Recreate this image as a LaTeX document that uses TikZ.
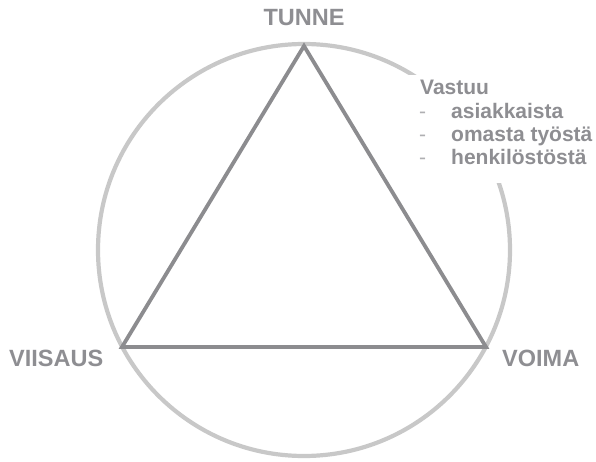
\documentclass[tikz,border=0pt]{standalone}
\usepackage{fontspec}
\setmainfont{Liberation Sans}
\definecolor{ringgray}{RGB}{200,200,200}
\definecolor{trigray}{RGB}{140,140,143}
\definecolor{txtgray}{RGB}{142,142,146}
\definecolor{dashgray}{RGB}{175,175,178}
\begin{document}
\begin{tikzpicture}[x=1pt,y=-1pt,
  lbl/.style={inner sep=0pt,anchor=base,text=txtgray,font=\bfseries\fontsize{23.5}{28}\selectfont},
  itm/.style={inner sep=0pt,anchor=base west,text=txtgray,font=\bfseries\fontsize{21}{25}\selectfont},
  dsh/.style={inner sep=0pt,anchor=base west,text=dashgray,font=\fontsize{21}{25}\selectfont}]
\useasboundingbox (0,0) rectangle (596,462);
\coordinate (c) at (304,250);
\draw[ringgray,line width=4.2pt] (c) circle[radius=206];
\fill[white] (405,75) rectangle (580,183.5);
\coordinate (top) at (304,46);
\coordinate (bl) at (122,347);
\coordinate (br) at (486,347);
\draw[trigray,line width=3.8pt,line join=miter] (top) -- (bl) -- (br) -- cycle;
\node[lbl] (tunne) at (304,26) {TUNNE};
\node[lbl,anchor=base west] (viisaus) at (9,366) {VIISAUS};
\node[lbl,anchor=base west] (voima) at (502,366) {VOIMA};
\node[itm] (vastuu) at (420,95) {Vastuu};
\node[dsh] (d1) at (419,118.5) {-};
\node[itm] (i1) at (451,118.5) {asiakkaista};
\node[dsh] (d2) at (419,141.8) {-};
\node[itm] (i2) at (451,141.8) {omasta työstä};
\node[dsh] (d3) at (419,165) {-};
\node[itm] (i3) at (451,165) {henkilöstöstä};
\end{tikzpicture}
\end{document}
